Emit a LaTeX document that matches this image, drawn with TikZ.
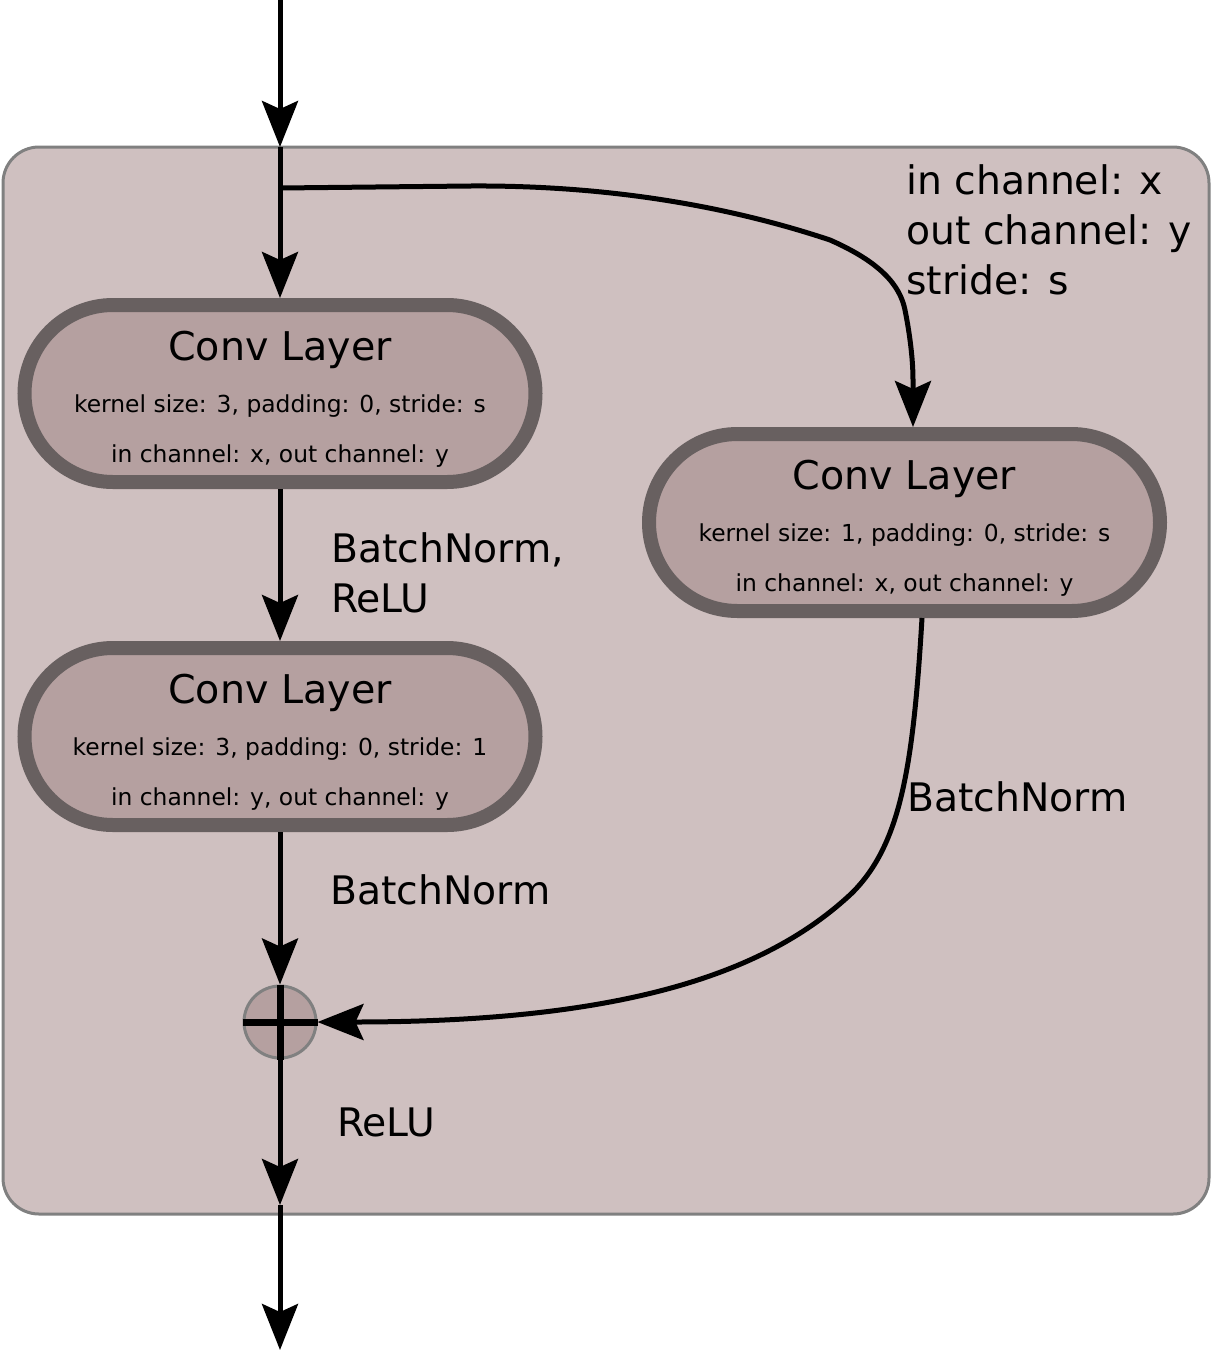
\documentclass[tikz,border=0pt]{standalone}
\usepackage{fontspec}
\setmainfont{DejaVu Sans}
\usetikzlibrary{arrows.meta,shapes.misc}
\definecolor{boxfill}{RGB}{207,192,192}
\definecolor{boxline}{RGB}{128,128,128}
\definecolor{convfill}{RGB}{181,160,160}
\definecolor{convline}{RGB}{104,96,96}
\tikzset{
  conv/.style={rounded rectangle, draw=convline, fill=convfill, line width=14pt,
    minimum width=511pt, minimum height=177pt, inner sep=0pt},
  big/.style={font=\fontsize{39.3}{47}\selectfont, inner sep=0pt, anchor=base west},
  bigc/.style={font=\fontsize{39.6}{47}\selectfont, inner sep=0pt, anchor=base},
  small/.style={font=\fontsize{23.4}{28}\selectfont, inner sep=0pt, anchor=base},
  arr/.style={line width=5pt, -{Stealth[length=46pt, width=36pt, inset=8pt]}},
  ln/.style={line width=5pt}
}
\begin{document}
\begin{tikzpicture}[x=1pt,y=-1pt]
\useasboundingbox (0,0) rectangle (1212,1350);
% outer box
\draw[fill=boxfill, draw=boxline, line width=3pt, rounded corners=36pt] (3,147) rectangle (1209,1214);
\coordinate (in) at (280,0);
\coordinate (boxtop) at (280,147);
\coordinate (split) at (280,188);
\coordinate (boxbot) at (280,1205);
\coordinate (out) at (280,1350);

% conv nodes
\node[conv] (c1) at (280,393.5) {};
\node[conv] (c2) at (280,736.5) {};
\node[conv] (c3) at (904.5,522.5) {};

\node[bigc] (c1t) at ([yshift=33.5pt]c1.center) {Conv Layer};
\node[small] (c1a) at ([yshift=-18.5pt]c1.center) {kernel size: 3, padding: 0, stride: s};
\node[small] (c1b) at ([yshift=-68.5pt]c1.center) {in channel: x, out channel: y};

\node[bigc] (c2t) at ([yshift=33.5pt]c2.center) {Conv Layer};
\node[small] (c2a) at ([yshift=-18.5pt]c2.center) {kernel size: 3, padding: 0, stride: 1};
\node[small] (c2b) at ([yshift=-68.5pt]c2.center) {in channel: y, out channel: y};

\node[bigc] (c3t) at ([yshift=33.5pt]c3.center) {Conv Layer};
\node[small] (c3a) at ([yshift=-18.5pt]c3.center) {kernel size: 1, padding: 0, stride: s};
\node[small] (c3b) at ([yshift=-68.5pt]c3.center) {in channel: x, out channel: y};

% plus
\node[circle, draw=boxline, fill=convfill, line width=3pt, minimum size=72pt, inner sep=0pt] (p) at (280,1022) {};
\draw[line width=7pt] (p.west) -- (p.east);
\draw[line width=7pt] (p.north) -- (p.south);

% connectors
\draw[arr] (in) -- (boxtop);
\draw[arr] (boxtop) -- (c1.north);
\draw[arr] (c1.south) -- (c2.north);
\draw[arr] (c2.south) -- (p.north);
\draw[arr] (split) -- (470,186) .. controls (620,185) and (740,210) .. (830,240)
  .. controls (880,262) and (900,285) .. (905,310)
  .. controls (910,335) and (913,360) .. (913,380) -- (c3.north -| 913,0);
\draw[arr] (c3.south -| 922,0) .. controls (913,770) and (900,845) .. (852,893)
  .. controls (765,975) and (620,1022) .. (p.east);
\draw[arr] (p.south) -- (boxbot);
\draw[arr] (boxbot) -- (out);

% labels
\node[big] (l1) at (906,194) {in channel: x};
\node[big] (l2) at (906,244) {out channel: y};
\node[big] (l3) at (906,294) {stride: s};
\node[big] (l4) at (331,562) {BatchNorm,};
\node[big] (l5) at (331,612) {ReLU};
\node[big] (l6) at (330,904) {BatchNorm};
\node[big] (l7) at (907,811) {BatchNorm};
\node[big] (l8) at (337,1136) {ReLU};
\end{tikzpicture}
\end{document}
